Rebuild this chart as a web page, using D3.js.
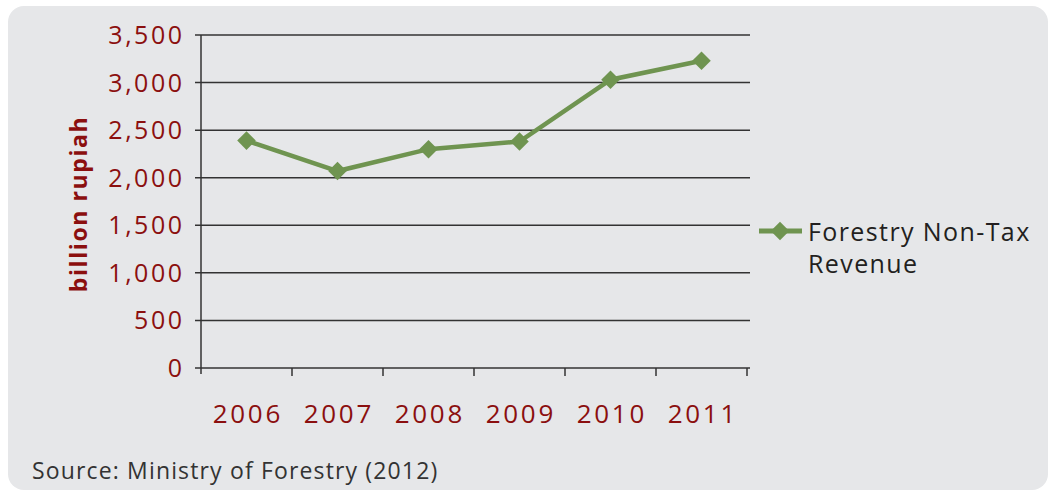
<!DOCTYPE html>
<html><head><meta charset="utf-8">
<script src="https://cdn.jsdelivr.net/npm/d3@7"></script>
<style>body{margin:0;background:#fff}svg{display:block}</style>
</head><body>
<script>
const categories = ["2006","2007","2008","2009","2010","2011"];
const revenue = [2390, 2070, 2300, 2380, 3030, 3230];
const yTicks = [0, 500, 1000, 1500, 2000, 2500, 3000, 3500];
const seriesName = ["Forestry Non-Tax", "Revenue"];
const yTitle = "billion rupiah";
const sourceText = "Source: Ministry of Forestry (2012)";

(function(){
const W = 1053, H = 491;
const svg = d3.select("body").append("svg").attr("width", W).attr("height", H);
svg.append("rect").attr("x", 8).attr("y", 6).attr("width", 1040).attr("height", 484).attr("rx", 16).attr("fill", "#e6e7e9");

const pLeft = 201, pRight = 747, pTop = 35, pBottom = 368;
const x = d3.scaleBand().domain(categories).range([pLeft, pRight]);
const y = d3.scaleLinear().domain([0, 3500]).range([pBottom, pTop]);
const red = "#8b0f0f", green = "#6f9450", axisCol = "#333";
const font = "'Open Sans', sans-serif";

svg.append("g").selectAll("line").data(yTicks).join("line")
  .attr("x1", 195).attr("x2", 750).attr("y1", d => y(d)).attr("y2", d => y(d))
  .attr("stroke", axisCol).attr("stroke-width", 1.5);
svg.append("line").attr("x1", pLeft).attr("x2", pLeft).attr("y1", pTop).attr("y2", pBottom + 6)
  .attr("stroke", axisCol).attr("stroke-width", 1.5);
const xt = categories.map(c => x(c) + x.bandwidth());
svg.append("g").selectAll("line").data(xt).join("line")
  .attr("x1", d => d).attr("x2", d => d).attr("y1", pBottom).attr("y2", pBottom + 8)
  .attr("stroke", axisCol).attr("stroke-width", 1.5);

svg.append("g").selectAll("text").data(yTicks).join("text")
  .attr("x", 182 + 2.5).attr("y", d => y(d)).attr("dy", "0.36em").attr("text-anchor", "end")
  .attr("letter-spacing", 2.5)
  .attr("fill", red).attr("font-family", font).attr("font-size", 25).text(d => d3.format(",")(d));
svg.append("g").selectAll("text").data(categories).join("text")
  .attr("x", d => x(d) + x.bandwidth() / 2 + 1.35).attr("y", 423).attr("text-anchor", "middle")
  .attr("letter-spacing", 2.7)
  .attr("fill", red).attr("font-family", font).attr("font-size", 26).text(d => d);
svg.append("text").attr("transform", "translate(87,204) rotate(-90)").attr("text-anchor", "middle")
  .attr("letter-spacing", 1.6)
  .attr("fill", red).attr("font-family", font).attr("font-weight", "bold").attr("font-size", 23).text(yTitle);

const pts = categories.map((c, i) => [x(c) + x.bandwidth() / 2, y(revenue[i])]);
svg.append("path").attr("d", d3.line()(pts)).attr("fill", "none").attr("stroke", green).attr("stroke-width", 4.5);
const dia = d3.symbol().type(d3.symbolDiamond2).size(220);
svg.append("g").selectAll("path").data(pts).join("path")
  .attr("transform", d => `translate(${d[0]},${d[1]})`).attr("d", dia).attr("fill", green);

svg.append("line").attr("x1", 759).attr("x2", 802).attr("y1", 231).attr("y2", 231).attr("stroke", green).attr("stroke-width", 5);
svg.append("path").attr("transform", "translate(780,231)").attr("d", dia).attr("fill", green);
svg.append("g").selectAll("text").data(seriesName).join("text")
  .attr("x", 808).attr("y", (d, i) => 241 + i * 32).attr("fill", "#231f20")
  .attr("letter-spacing", 1.4)
  .attr("font-family", font).attr("font-size", 25).text(d => d);

svg.append("text").attr("x", 32).attr("y", 479).attr("fill", "#333").attr("font-family", font).attr("font-size", 23)
  .attr("letter-spacing", 1.15).text(sourceText);
})();
</script>
</body></html>
